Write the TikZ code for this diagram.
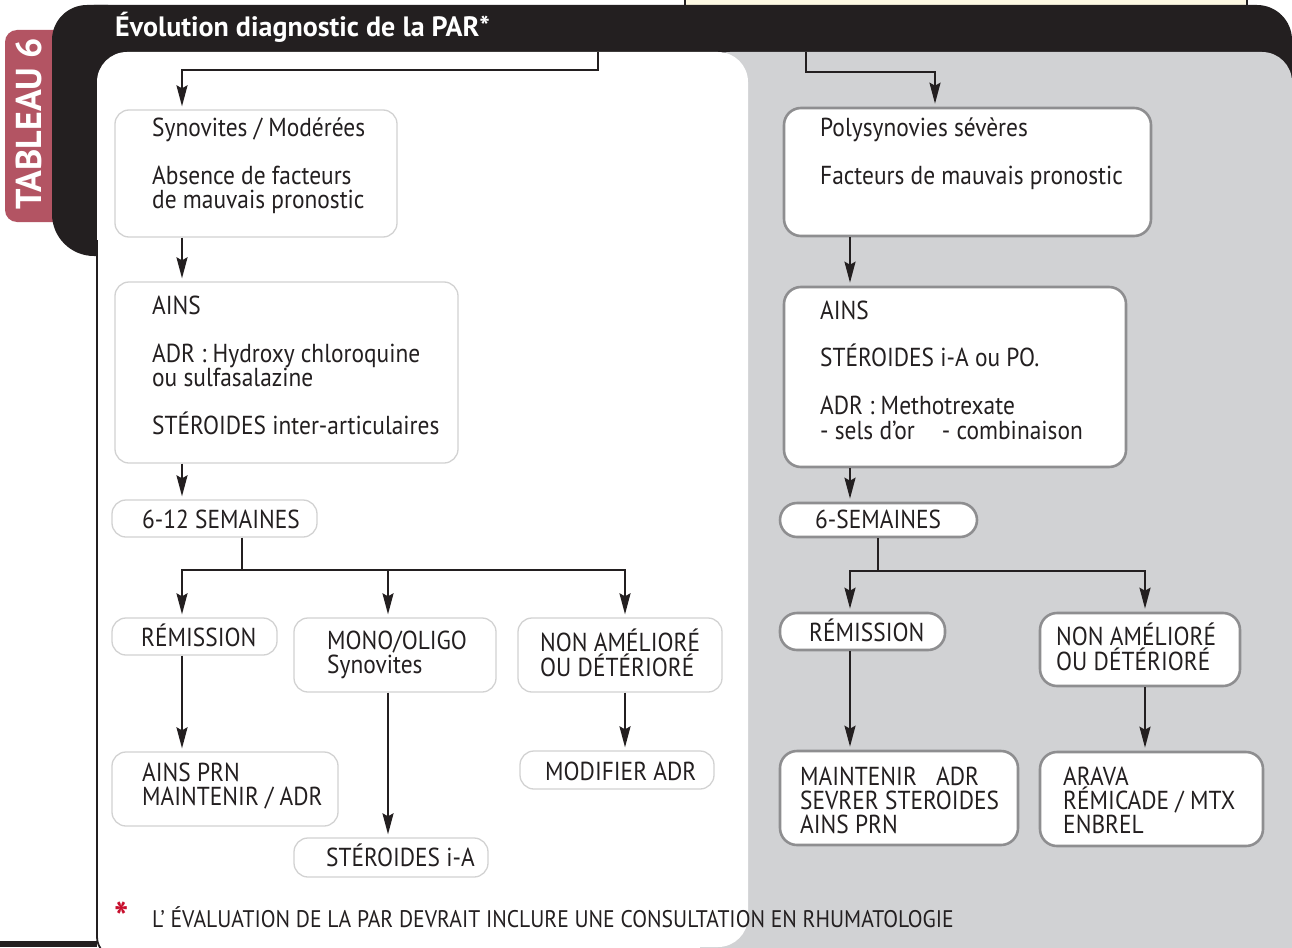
\documentclass[tikz,border=0pt]{standalone}
\usepackage{fontspec}
\setmainfont{PT Sans}[FakeStretch=0.9]
\newfontfamily\tabfont{PT Sans}
\usetikzlibrary{arrows.meta}
\definecolor{ink}{HTML}{231F20}
\definecolor{panelgray}{HTML}{D1D2D4}
\definecolor{tabrose}{HTML}{B35463}
\definecolor{cream}{HTML}{FDF8E2}
\definecolor{lborder}{HTML}{D2D2D2}
\definecolor{dborder}{HTML}{8E8E90}
\definecolor{starred}{HTML}{C8102E}
\tikzset{
 lbox/.style={draw=lborder, line width=1.3pt, fill=white, rounded corners=14pt, inner sep=0pt},
 dbox/.style={draw=dborder, line width=2.6pt, fill=white, rounded corners=17pt, inner sep=0pt},
 txt/.style={anchor=base west, inner sep=0pt, font=\fontsize{26}{28}\selectfont, text=ink},
 arr/.style={draw=ink, line width=2.2pt, -{Stealth[length=21pt,width=11pt,inset=3pt]}, shorten >=3pt},
 conn/.style={draw=ink, line width=2.2pt},
}
\begin{document}
\begin{tikzpicture}[x=1pt,y=-1pt]
\useasboundingbox (0,0) rectangle (1292,947);
\fill[white] (0,0) rectangle (1292,947);
% cream box at top
\fill[cream] (685,0) rectangle (1247,12);
\draw[ink, line width=1.6pt] (685,0) -- (685,12) (1247,0) -- (1247,12);
% tab
\fill[tabrose, rounded corners=12pt] (5,30) rectangle (70,222);
% black frame
\fill[ink, rounded corners=42pt] (52,5) rectangle (150,256);
\fill[ink, rounded corners=35pt] (52,5) rectangle (1292,120);
% gray panel
\fill[panelgray, rounded corners=30pt] (700,52) rectangle (1292,1000);
% white panel
\fill[white, rounded corners=30pt] (97,52) rectangle (748,947);
\draw[ink, line width=1.8pt, rounded corners=20pt] (97,240) -- (97,957) -- (140,957);
\fill[ink] (0,941) rectangle (97,947);

\node[rotate=90, text=white, font=\tabfont\bfseries\fontsize{36}{38}\selectfont, inner sep=0pt] (tab) at (29,124) {TABLEAU 6};
\node[anchor=base west, inner sep=0pt, text=white, font=\tabfont\bfseries\fontsize{28}{30}\selectfont] (title) at (115,37) {Évolution diagnostic de la PAR*};

% boxes left
\node[lbox, minimum width=282pt, minimum height=127pt] (syn) at (256,173.5) {};
\node[lbox, minimum width=343pt, minimum height=181pt] (ains1) at (286.5,372.5) {};
\node[lbox, minimum width=205pt, minimum height=37pt] (sem1) at (214.5,518.5) {};
\node[lbox, minimum width=165pt, minimum height=37pt] (rem1) at (194.5,636.5) {};
\node[lbox, minimum width=202pt, minimum height=74pt] (mono) at (395,655) {};
\node[lbox, minimum width=204pt, minimum height=74pt] (nonam1) at (620,655) {};
\node[lbox, minimum width=226pt, minimum height=74pt] (ainsprn) at (225,789) {};
\node[lbox, minimum width=194pt, minimum height=39pt] (ster) at (391,857.5) {};
\node[lbox, minimum width=194pt, minimum height=38pt] (modif) at (617,770) {};
% boxes right
\node[dbox, minimum width=367pt, minimum height=128pt] (poly) at (967.5,172) {};
\node[dbox, minimum width=342pt, minimum height=180pt] (ains2) at (955,377) {};
\node[dbox, minimum width=197pt, minimum height=34pt] (sem2) at (878.5,520) {};
\node[dbox, minimum width=165pt, minimum height=37pt] (rem2) at (862.5,631.5) {};
\node[dbox, minimum width=200pt, minimum height=73pt] (nonam2) at (1140,649.5) {};
\node[dbox, minimum width=238pt, minimum height=94pt] (maint) at (899,798) {};
\node[dbox, minimum width=223pt, minimum height=94pt] (arava) at (1151.5,799) {};

% texts left
\node[txt] (t1a) at (152,136) {Synovites / Modérées};
\node[txt] (t1b) at (152,184) {Absence de facteurs};
\node[txt] (t1c) at (152,208) {de mauvais pronostic};
\node[txt] (t2a) at (152,314) {AINS};
\node[txt] (t2b) at (152,362) {ADR : Hydroxy chloroquine};
\node[txt] (t2c) at (152,386) {ou sulfasalazine};
\node[txt] (t2d) at (152,434) {STÉROIDES inter-articulaires};
\node[txt] (t3) at (142,528) {6-12 SEMAINES};
\node[txt] (t4) at (141,646) {RÉMISSION};
\node[txt] (t5a) at (327,649) {MONO/OLIGO};
\node[txt] (t5b) at (327,673) {Synovites};
\node[txt] (t6a) at (540,651) {NON AMÉLIORÉ};
\node[txt] (t6b) at (540,676) {OU DÉTÉRIORÉ};
\node[txt] (t7a) at (142,781) {AINS PRN};
\node[txt] (t7b) at (142,805) {MAINTENIR / ADR};
\node[txt] (t8) at (326,866) {STÉROIDES i-A};
\node[txt] (t9) at (545,780) {MODIFIER ADR};
% texts right
\node[txt] (r1a) at (820,136) {Polysynovies sévères};
\node[txt] (r1b) at (820,184) {Facteurs de mauvais pronostic};
\node[txt] (r2a) at (820,319) {AINS};
\node[txt] (r2b) at (820,366) {STÉROIDES i-A ou PO.};
\node[txt] (r2c) at (820,414) {ADR : Methotrexate};
\node[txt] (r2d) at (820,439) {- sels d’or\hspace{0.8em} - combinaison};
\node[txt] (r3) at (815,528) {6-SEMAINES};
\node[txt] (r4) at (809,641) {RÉMISSION};
\node[txt] (r5a) at (1056,645) {NON AMÉLIORÉ};
\node[txt] (r5b) at (1056,670) {OU DÉTÉRIORÉ};
\node[txt] (r6a) at (800,785) {MAINTENIR\hspace{0.5em} ADR};
\node[txt] (r6b) at (800,809) {SEVRER STEROIDES};
\node[txt] (r6c) at (800,833) {AINS PRN};
\node[txt] (r7a) at (1063,785) {ARAVA};
\node[txt] (r7b) at (1063,809) {RÉMICADE / MTX};
\node[txt] (r7c) at (1063,833) {ENBREL};

% footnote
\node[anchor=base west, inner sep=0pt, text=starred, font=\bfseries\fontsize{42}{44}\selectfont] (star) at (114,932) {*};
\node[anchor=base west, inner sep=0pt, text=ink, font=\fontsize{24}{26}\selectfont] (foot) at (152,927) {L’ ÉVALUATION DE LA PAR DEVRAIT INCLURE UNE CONSULTATION EN RHUMATOLOGIE};

% connectors
\coordinate (xa) at (182,0);
\coordinate (xb) at (388,0);
\coordinate (xc) at (625,0);
\coordinate (xd) at (850,0);
\coordinate (xe) at (1145,0);
\coordinate (xf) at (935,0);
\coordinate (tl) at (598,52);
\coordinate (tlb) at (598,70);
\coordinate (tr) at (806,52);
\coordinate (trb) at (806,72);
\coordinate (j1) at (242,570);
\coordinate (j2) at (878,571);

\draw[arr] (tl) -- (tlb) -| (syn.north -| xa);
\draw[arr] (tr) -- (trb) -| (poly.north -| xf);
\draw[arr] (syn.south -| xa) -- (ains1.north -| xa);
\draw[arr] (ains1.south -| xa) -- (sem1.north -| xa);
\draw[conn] (sem1.south -| j1) -- (j1);
\draw[arr] (j1) -| (rem1.north -| xa);
\draw[arr] (j1) -| (mono.north -| xb);
\draw[arr] (j1) -| (nonam1.north -| xc);
\draw[arr] (rem1.south -| xa) -- (ainsprn.north -| xa);
\draw[arr] (mono.south -| xb) -- (ster.north -| xb);
\draw[arr] (nonam1.south -| xc) -- (modif.north -| xc);
\draw[arr] (poly.south -| xd) -- (ains2.north -| xd);
\draw[arr] (ains2.south -| xd) -- (sem2.north -| xd);
\draw[conn] (sem2.south -| j2) -- (j2);
\draw[arr] (j2) -| (rem2.north -| xd);
\draw[arr] (j2) -| (nonam2.north -| xe);
\draw[arr] (rem2.south -| xd) -- (maint.north -| xd);
\draw[arr] (nonam2.south -| xe) -- (arava.north -| xe);
\end{tikzpicture}
\end{document}
